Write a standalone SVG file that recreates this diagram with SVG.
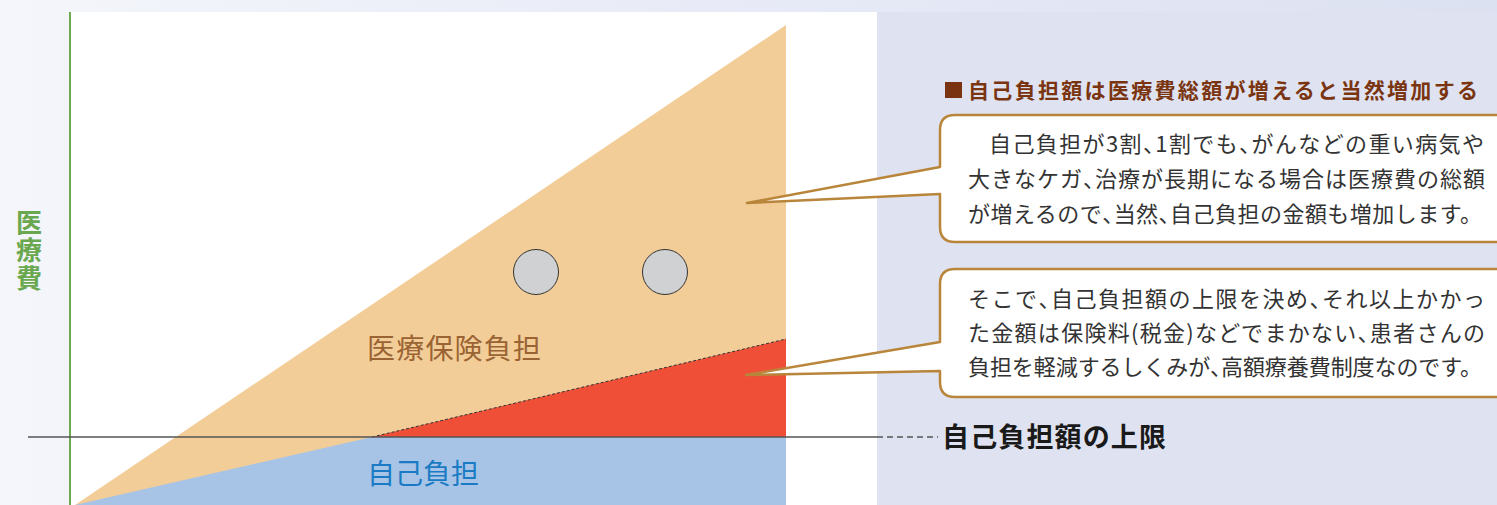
<svg xmlns="http://www.w3.org/2000/svg" width="1497" height="505" viewBox="0 0 1497 505">
  <defs>
    <linearGradient id="bg" x1="0" y1="0" x2="1" y2="0">
      <stop offset="0" stop-color="#f4f6fb"/>
      <stop offset="0.55" stop-color="#e6e9f6"/>
      <stop offset="1" stop-color="#dce1f1"/>
    </linearGradient>
  </defs>
  <style>
    .jp { font-family: "Noto Sans CJK JP", "Noto Sans", sans-serif; }
    .body { font-size: 22px; fill: #333333; }
    .p { font-feature-settings: "halt" 1; }
    .callout { fill: #ffffff; stroke: #b9853a; stroke-width: 2.5; stroke-linejoin: round; }
    .circle { fill: #d0d1d3; stroke: #333333; stroke-width: 1; }
  </style>
  <rect x="0" y="0" width="1497" height="505" fill="url(#bg)"/>
  <rect x="877" y="12" width="620" height="493" fill="#dfe3f1"/>
  <rect x="70" y="12" width="807" height="493" fill="#ffffff"/>

  <g id="chart">
    <polygon points="75,505 786,25 786,505" fill="#f3cd98"/>
    <polygon points="75,505 372,437 786,437 786,505" fill="#a7c4e6"/>
    <polygon points="372,437 786,339 786,437" fill="#ef4f37"/>
    <line x1="372" y1="437" x2="786" y2="339" stroke="#333333" stroke-width="1" stroke-dasharray="3 2"/>
    <line x1="70" y1="12" x2="70" y2="505" stroke="#6ea851" stroke-width="2"/>
  </g>

  <g id="limit-line">
    <line x1="28" y1="437" x2="877" y2="437" stroke="#555555" stroke-width="1.6"/>
    <line x1="877" y1="437" x2="938" y2="437" stroke="#555555" stroke-width="1.6" stroke-dasharray="6 4"/>
  </g>

  <g id="circles">
    <circle class="circle" cx="536" cy="272" r="22.5"/>
    <circle class="circle" cx="665" cy="272" r="22.5"/>
  </g>

  <g id="axis-label">
    <text class="jp" x="29" y="209" font-size="26" font-weight="bold" fill="#6aa84f" writing-mode="vertical-rl" letter-spacing="2">医療費</text>
  </g>

  <g id="region-labels">
    <text class="jp" x="367" y="359" font-size="28" fill="#9a6333" textLength="174" lengthAdjust="spacing">医療保険負担</text>
    <text class="jp" x="367" y="484" font-size="28" fill="#1a7bc4" textLength="112" lengthAdjust="spacing">自己負担</text>
  </g>

  <g id="title">
    <rect x="945" y="82" width="17" height="16" fill="#7a3510"/>
    <text class="jp" x="968" y="98" font-size="21" font-weight="bold" fill="#7a3510" textLength="510" lengthAdjust="spacing">自己負担額は医療費総額が増えると当然増加する</text>
  </g>

  <g id="callout-1">
    <path class="callout" d="M 1510 115 L 955 115 Q 940 115 940 130 L 940 167 L 747 203 L 940 194 L 940 227 Q 940 242 955 242 L 1510 242 Z"/>
    <text class="jp body" x="989" y="152" textLength="495" lengthAdjust="spacing">自己負担が3割<tspan class="p">、</tspan>1割でも<tspan class="p">、</tspan>がんなどの重い病気や</text>
    <text class="jp body" x="968" y="187" textLength="517" lengthAdjust="spacing">大きなケガ<tspan class="p">、</tspan>治療が長期になる場合は医療費の総額</text>
    <text class="jp body" x="968" y="222" textLength="514" lengthAdjust="spacing">が増えるので<tspan class="p">、</tspan>当然<tspan class="p">、</tspan>自己負担の金額も増加します。</text>
  </g>

  <g id="callout-2">
    <path class="callout" d="M 1510 269 L 955 269 Q 940 269 940 284 L 940 342 L 746 375 L 940 371 L 940 382 Q 940 397 955 397 L 1510 397 Z"/>
    <text class="jp body" x="968" y="307" textLength="517" lengthAdjust="spacing">そこで<tspan class="p">、</tspan>自己負担額の上限を決め<tspan class="p">、</tspan>それ以上かかっ</text>
    <text class="jp body" x="968" y="341" textLength="517" lengthAdjust="spacing">た金額は保険料(税金)などでまかない<tspan class="p">、</tspan>患者さんの</text>
    <text class="jp body" x="968" y="375" textLength="514" lengthAdjust="spacing">負担を軽減するしくみが<tspan class="p">、</tspan>高額療養費制度なのです。</text>
  </g>

  <g id="limit-label">
    <text class="jp" x="942" y="447" font-size="27" font-weight="bold" fill="#1a1a1a" textLength="224" lengthAdjust="spacing">自己負担額の上限</text>
  </g>
</svg>
